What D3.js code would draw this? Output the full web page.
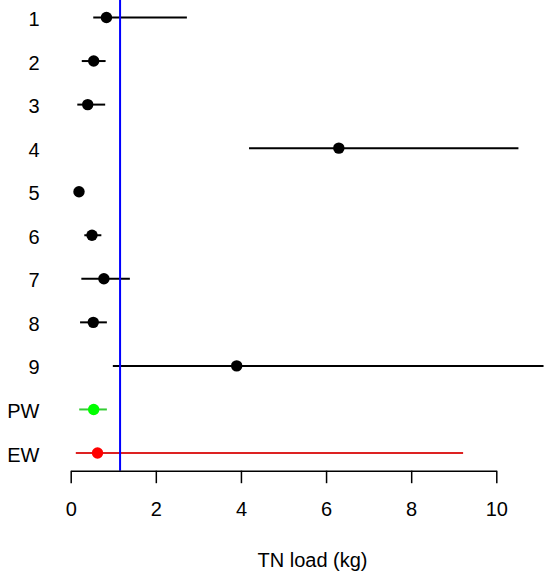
<!DOCTYPE html>
<html><head><meta charset="utf-8">
<script src="https://cdn.jsdelivr.net/npm/d3@7"></script>
<style>body{margin:0;background:#fff}svg{display:block}text{font-family:"Liberation Sans",Arial,Helvetica,sans-serif}</style>
</head><body><svg id="c" width="553" height="573"></svg>
<script>
const labels = ["1","2","3","4","5","6","7","8","9","PW","EW"];
const estimates = [0.84,0.54,0.40,6.30,0.195,0.50,0.78,0.53,3.90,0.54,0.63];
const lower = [0.53,0.26,0.155,4.19,0.19,0.32,0.25,0.22,0.99,0.20,0.12];
const upper = [2.73,0.82,0.81,10.52,0.20,0.72,1.39,0.85,11.11,0.85,9.22];
const lineColors = ["#000","#000","#000","#000","#000","#000","#000","#000","#000","#3c3","#d22"];
const dotColors = ["#000","#000","#000","#000","#000","#000","#000","#000","#000","#0f0","#f00"];
const refValue = 1.16;
const xTicks = [0,2,4,6,8,10];
const xTitle = "TN load (kg)";

const svg = d3.select("#c");
const x = d3.scaleLinear().domain([0,10]).range([70.7,496.3]);
const y = d3.scalePoint().domain(labels).range([17.5,453]);
const axisY = 470.7;

const rows = labels.map((l,i)=>({l,e:estimates[i],lo:lower[i],hi:upper[i],lc:lineColors[i],dc:dotColors[i]}));

const g = svg.append("g");
g.selectAll("line.ci").data(rows).join("line").attr("class","ci")
  .attr("x1",d=>x(d.lo)).attr("x2",d=>x(d.hi))
  .attr("y1",d=>y(d.l)).attr("y2",d=>y(d.l))
  .attr("stroke",d=>d.lc).attr("stroke-width",2);
g.selectAll("circle").data(rows).join("circle")
  .attr("cx",d=>x(d.e)).attr("cy",d=>y(d.l)).attr("r",5.7)
  .attr("fill",d=>d.dc);

svg.append("line").attr("x1",x(refValue)).attr("x2",x(refValue))
  .attr("y1",0).attr("y2",axisY).attr("stroke","#00f").attr("stroke-width",2);

svg.selectAll("text.lab").data(labels).join("text").attr("class","lab")
  .attr("x",39.5).attr("y",d=>y(d)+8.5)
  .attr("text-anchor","end").attr("font-size",20).text(d=>d);

const ax = svg.append("g").attr("transform",`translate(0,${axisY})`)
  .call(d3.axisBottom(x).tickValues(xTicks).tickSize(12.5).tickPadding(19).tickSizeOuter(0));
ax.select(".domain").attr("stroke","#000").attr("stroke-width",1.5);
ax.selectAll(".tick line").attr("stroke","#000").attr("stroke-width",1.5);
ax.selectAll(".tick text").attr("font-size",20).attr("fill","#000")
  .attr("font-family",'"Liberation Sans",Arial,sans-serif');

svg.append("text").attr("x",312.5).attr("y",567.3)
  .attr("text-anchor","middle").attr("font-size",20).text(xTitle);
</script></body></html>
